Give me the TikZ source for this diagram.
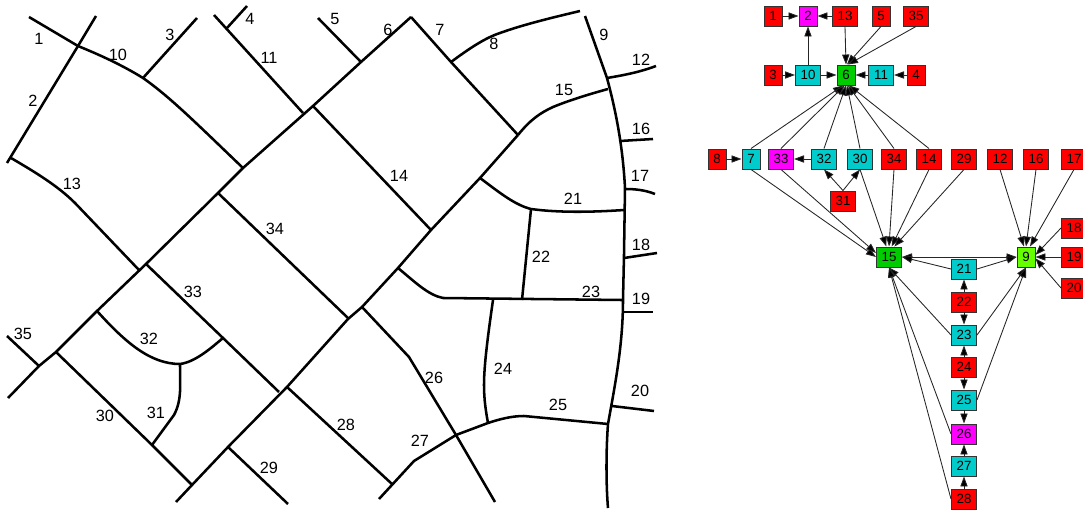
\documentclass[tikz,border=0pt]{standalone}
\usepackage{fontspec}
\setmainfont{Liberation Sans}
\usetikzlibrary{arrows.meta}
\definecolor{cred}{RGB}{255,0,0}
\definecolor{ccyan}{RGB}{0,204,204}
\definecolor{cmag}{RGB}{255,0,255}
\definecolor{cgreen}{RGB}{0,204,0}
\definecolor{clime}{RGB}{102,255,0}
\tikzset{
  road/.style={line width=1.9pt,line join=round},
  maplabel/.style={font=\fontsize{12.2}{14}\selectfont,inner sep=0pt},
  gnode/.style={draw=black!80,line width=0.7pt,minimum height=15pt,inner sep=0pt,font=\fontsize{10}{12}\selectfont,text=black},
  sm/.style={gnode,minimum width=13.5pt},
  lg/.style={gnode,minimum width=18.8pt},
  rsm/.style={sm,fill=cred}, rlg/.style={lg,fill=cred},
  csm/.style={sm,fill=ccyan}, clg/.style={lg,fill=ccyan},
  msm/.style={sm,fill=cmag}, mlg/.style={lg,fill=cmag},
  edge/.style={line width=0.65pt,draw=black!85,-{Triangle[length=7.5pt,width=5.4pt,fill=black]}},
  both/.style={line width=0.65pt,draw=black!85,{Triangle[length=7.5pt,width=5.4pt,fill=black]}-{Triangle[length=7.5pt,width=5.4pt,fill=black]}}
}
\begin{document}
\begin{tikzpicture}[x=0.75pt,y=-0.75pt]
\useasboundingbox (0,0) rectangle (1083,510);
% ---- road map ----
\draw[road] (29,17) -- (78,46);
\draw[road] (96,16) -- (78,46) -- (7,163);
\draw[road] (78,46) .. controls (100,55) and (122,65) .. (143,78) .. controls (170,97) and (195,122) .. (243,168);
\draw[road] (143,78) -- (197,18);
\draw[road] (247,6) -- (227,28);
\draw[road] (214,15) -- (303,113);
\draw[road] (318,18) -- (361,62);
\draw[road] (411,17) -- (361,62) -- (313,106) -- (243,168) -- (218,193) -- (146,264) -- (97,311) -- (56,352) -- (39,366) -- (8,398);
\draw[road] (7,336) -- (39,366);
\draw[road] (313,106) -- (431,230);
\draw[road] (11,158) .. controls (35,172) and (58,186) .. (75,203) -- (139,270);
\draw[road] (218,193) -- (349,319);
\draw[road] (146,264) -- (223,338) -- (279,392);
\draw[road] (287,387) -- (392,484);
\draw[road] (518,135) -- (480,178) -- (431,230) -- (398,268) -- (362,307) -- (348,319) -- (287,387) -- (228,447) -- (192,485) -- (176,502);
\draw[road] (56,352) -- (152,445) -- (192,485);
\draw[road] (97,311) .. controls (125,342) and (150,364) .. (180,364) .. controls (195,362) and (210,349) .. (223,338);
\draw[road] (180,364) .. controls (180,385) and (182,400) .. (174,415) -- (152,445);
\draw[road] (228,447) -- (288,504);
\draw[road] (411,17) -- (451,62) -- (518,135);
\draw[road] (451,62) .. controls (470,48) and (485,38) .. (500,33) .. controls (525,24) and (555,17) .. (580,11);
\draw[road] (585,16) -- (607,78) .. controls (617,115) and (623,150) .. (625,188) -- (624,255) -- (623,300) .. controls (623,345) and (615,385) .. (608,424) .. controls (606,450) and (606,485) .. (608,508);
\draw[road] (607,78) .. controls (625,75) and (640,72) .. (656,66);
\draw[road] (518,135) .. controls (530,120) and (540,113) .. (553,107) .. controls (570,100) and (590,94) .. (608,89);
\draw[road] (620,141) -- (653,139);
\draw[road] (625,189) .. controls (635,189) and (645,190) .. (655,194);
\draw[road] (480,178) .. controls (500,193) and (515,205) .. (531,209) .. controls (560,213) and (595,212) .. (624,210);
\draw[road] (531,209) -- (522,300);
\draw[road] (624,258) -- (657,253);
\draw[road] (398,268) .. controls (415,282) and (428,295) .. (443,298) -- (622,300);
\draw[road] (623,312) -- (653,312);
\draw[road] (493,300) .. controls (488,335) and (484,365) .. (484,385) .. controls (484,400) and (486,412) .. (488,423);
\draw[road] (379,499) -- (414,461) -- (456,435) -- (488,423) .. controls (500,419) and (512,416) .. (524,416) -- (608,424);
\draw[road] (362,307) -- (409,357) -- (456,435) -- (495,502);
\draw[road] (612,406) -- (654,411);
% ---- map labels ----
\node[maplabel] (m1) at (39,39) {1};
\node[maplabel] (m2) at (33,101) {2};
\node[maplabel] (m3) at (170,35) {3};
\node[maplabel] (m4) at (250,19) {4};
\node[maplabel] (m5) at (335,19) {5};
\node[maplabel] (m6) at (388,30) {6};
\node[maplabel] (m7) at (440,30) {7};
\node[maplabel] (m8) at (494,44) {8};
\node[maplabel] (m9) at (604,35) {9};
\node[maplabel] (m10) at (118,55) {10};
\node[maplabel] (m11) at (269,58) {11};
\node[maplabel] (m12) at (641,60) {12};
\node[maplabel] (m13) at (72,184) {13};
\node[maplabel] (m14) at (399,176) {14};
\node[maplabel] (m15) at (564,90) {15};
\node[maplabel] (m16) at (641,129) {16};
\node[maplabel] (m17) at (640,176) {17};
\node[maplabel] (m18) at (641,245) {18};
\node[maplabel] (m19) at (641,299) {19};
\node[maplabel] (m20) at (640,391) {20};
\node[maplabel] (m21) at (573,199) {21};
\node[maplabel] (m22) at (541,257) {22};
\node[maplabel] (m23) at (591,292) {23};
\node[maplabel] (m24) at (503,369) {24};
\node[maplabel] (m25) at (558,405) {25};
\node[maplabel] (m26) at (434,378) {26};
\node[maplabel] (m27) at (420,441) {27};
\node[maplabel] (m28) at (346,425) {28};
\node[maplabel] (m29) at (269,468) {29};
\node[maplabel] (m30) at (105,416) {30};
\node[maplabel] (m31) at (156,413) {31};
\node[maplabel] (m32) at (149,339) {32};
\node[maplabel] (m33) at (193,292) {33};
\node[maplabel] (m34) at (275,229) {34};
\node[maplabel] (m35) at (23,334) {35};
% ---- graph nodes ----
\node[rsm] (n1) at (773,16) {1};
\node[msm] (n2) at (808,16) {2};
\node[rlg] (n13) at (845,16) {13};
\node[rsm] (n5) at (881,16) {5};
\node[rlg] (n35) at (916,16) {35};
\node[rsm] (n3) at (773,75) {3};
\node[clg] (n10) at (808,75) {10};
\node[sm,fill=cgreen] (n6) at (846,75) {6};
\node[clg] (n11) at (881,75) {11};
\node[rsm] (n4) at (916,75) {4};
\node[rsm] (n8) at (717,159) {8};
\node[csm] (n7) at (751,159) {7};
\node[mlg] (n33) at (781,159) {33};
\node[clg] (n32) at (824,159) {32};
\node[clg] (n30) at (860,159) {30};
\node[rlg] (n34) at (894,159) {34};
\node[rlg] (n14) at (929,159) {14};
\node[rlg] (n29) at (964,159) {29};
\node[rlg] (n12) at (1000,159) {12};
\node[rlg] (n16) at (1036,159) {16};
\node[rlg] (n17) at (1074,159) {17};
\node[rlg] (n31) at (843,201) {31};
\node[lg,fill=cgreen] (n15) at (889,257) {15};
\node[sm,fill=clime] (n9) at (1026,257) {9};
\node[rlg] (n18) at (1074,228) {18};
\node[rlg] (n19) at (1074,257) {19};
\node[rlg] (n20) at (1074,288) {20};
\node[clg] (n21) at (964,269) {21};
\node[rlg] (n22) at (964,302) {22};
\node[clg] (n23) at (964,335) {23};
\node[rlg] (n24) at (964,367) {24};
\node[clg] (n25) at (964,400) {25};
\node[mlg] (n26) at (964,434) {26};
\node[clg] (n27) at (964,466) {27};
\node[rlg] (n28) at (964,499) {28};
% ---- graph edges ----
\draw[edge] (n1) -- (n2);
\draw[edge] (n13) -- (n2);
\draw[edge] (n10) -- (n2);
\draw[edge] (n13.south) -- (n6.north);
\draw[edge] (n5.south) -- ([xshift=0.7pt]n6.north);
\draw[edge] (n35.south) -- ([xshift=1.5pt]n6.north);
\draw[edge] (n3) -- (n10);
\draw[edge] (n10) -- (n6);
\draw[edge] (n11) -- (n6);
\draw[edge] (n4) -- (n11);
\draw[edge] (n7.north) -- ([xshift=-2.2pt]n6.south);
\draw[edge] (n33.north) -- ([xshift=-1pt]n6.south);
\draw[edge] (n32.north) -- (n6.south);
\draw[edge] (n30.north) -- ([xshift=0.7pt]n6.south);
\draw[edge] (n34.north) -- ([xshift=1.5pt]n6.south);
\draw[edge] (n14.north) -- ([xshift=2.5pt]n6.south);
\draw[edge] (n8) -- (n7);
\draw[edge] (n32) -- (n33);
\draw[edge] (n31.north) -- (n32.south);
\draw[edge] (n31.north) -- (n30.south);
\draw[edge] (n7.south) -- (n15.west);
\draw[edge] (n33.south) -- ([yshift=3pt]n15.west);
\draw[edge] (n30.south) -- ([xshift=-2pt]n15.north);
\draw[edge] (n34.south) -- (n15.north);
\draw[edge] (n14.south) -- ([xshift=2pt]n15.north);
\draw[edge] (n29.south) -- ([xshift=4pt]n15.north);
\draw[edge] (n12.south) -- ([xshift=-1.5pt]n9.north);
\draw[edge] (n16.south) -- (n9.north);
\draw[edge] (n17.south) -- ([xshift=3pt]n9.north);
\draw[edge] (n18.west) -- ([yshift=1.5pt]n9.east);
\draw[edge] (n19.west) -- (n9.east);
\draw[edge] (n20.west) -- ([yshift=-1pt]n9.east);
\draw[both] (n15.east) -- (n9.west);
\draw[edge] (n21.west) -- (n15.east);
\draw[edge] (n21.east) -- (n9.west);
\draw[edge] (n22) -- (n21);
\draw[edge] (n22) -- (n23);
\draw[edge] (n23.west) -- (n15.south);
\draw[edge] (n23.east) -- (n9.south);
\draw[edge] (n24) -- (n23);
\draw[edge] (n24) -- (n25);
\draw[edge] (n25) -- (n26);
\draw[edge] (n25.east) -- (n9.south);
\draw[edge] (n26.west) -- (n15.south);
\draw[edge] (n27) -- (n26);
\draw[edge] (n28) -- (n27);
\draw[edge] (n28.west) -- (n15.south);
\end{tikzpicture}
\end{document}
